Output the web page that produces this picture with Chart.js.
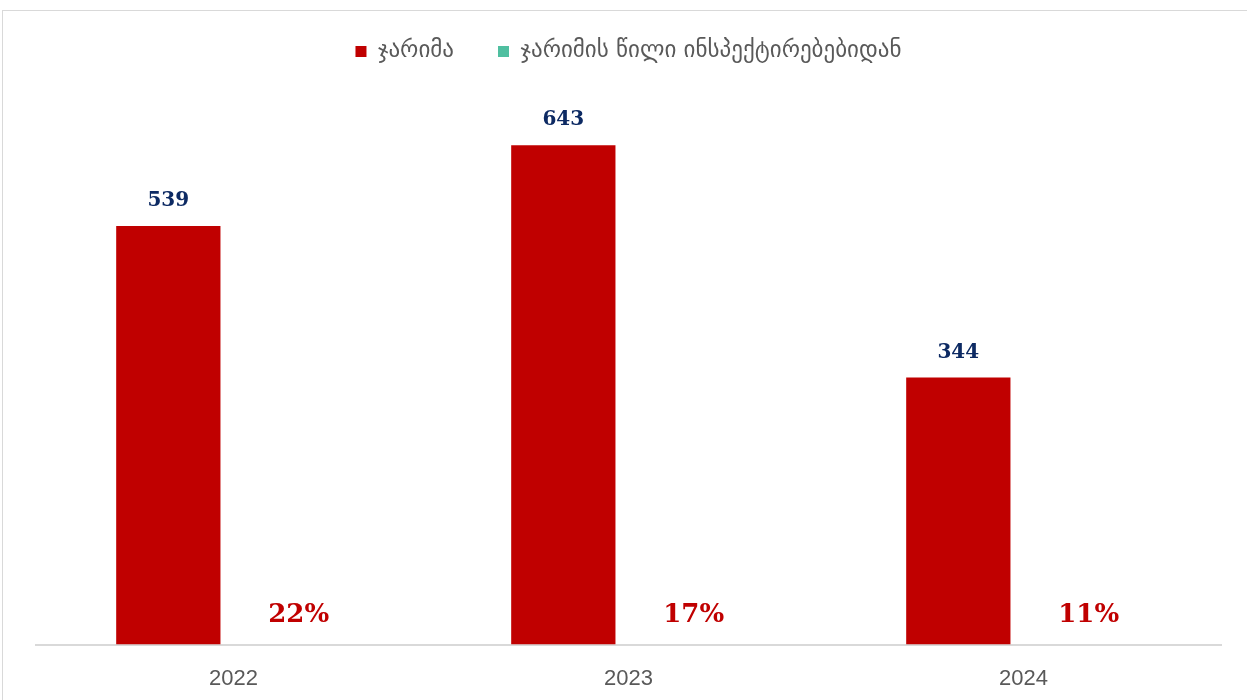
<!DOCTYPE html>
<html>
<head>
<meta charset="utf-8">
<script src="https://cdn.jsdelivr.net/npm/chart.js@4"></script>
<style>
    html, body { margin: 0; padding: 0; background: #fff; overflow: hidden; }
    #frame { position: absolute; left: 2px; top: 10px; width: 1300px; height: 760px; border: 1px solid #d9d9d9; }
    #wrap { position: absolute; left: 0; top: -12px; width: 1247px; height: 736px; }
</style>
</head>
<body>
<div id="frame"></div>
<div id="wrap"><canvas id="chart"></canvas></div>
<script>
const years = ['2022', '2023', '2024'];
const fines = [539, 643, 344];
const finePct = [22, 17, 11];
const seriesNames = ['ჯარიმა', 'ჯარიმის წილი ინსპექტირებებიდან'];

// draws the value labels above the red bars and the % labels at the bottom
const labelPlugin = {
    id: 'labels',
    afterDatasetsDraw(chart) {
        const ctx = chart.ctx;
        ctx.save();
        ctx.textAlign = 'center';
        ctx.textBaseline = 'middle';
        chart.getDatasetMeta(0).data.forEach((bar, i) => {
            ctx.fillStyle = '#0d2a63';
            ctx.font = 'bold 20px "DejaVu Serif"';
            ctx.fillText(fines[i], bar.x, bar.y - 25);
        });
        chart.getDatasetMeta(1).data.forEach((bar, i) => {
            ctx.fillStyle = '#c00000';
            ctx.font = 'bold 26px "DejaVu Serif"';
            ctx.fillText(finePct[i] + '%', bar.x, chart.chartArea.bottom - 29);
        });
        ctx.restore();
    }
};

new Chart(document.getElementById('chart'), {
    type: 'bar',
    data: {
        labels: years,
        datasets: [
            {
                label: seriesNames[0],
                data: fines,
                backgroundColor: '#c00000',
                barPercentage: 0.8,
                categoryPercentage: 0.66
            },
            {
                label: seriesNames[1],
                data: finePct.map(v => v / 100),
                backgroundColor: '#4fbfa0',
                barPercentage: 0.8,
                categoryPercentage: 0.66
            }
        ]
    },
    options: {
        responsive: true,
        maintainAspectRatio: false,
        animation: false,
        layout: { padding: { left: 36, right: 26, top: 8, bottom: 11 } },
        plugins: {
            legend: {
                position: 'top',
                labels: {
                    boxWidth: 11,
                    boxHeight: 11,
                    padding: 44,
                    color: '#595959',
                    font: { family: '"DejaVu Sans"', size: 23 }
                }
            },
            tooltip: { enabled: false }
        },
        scales: {
            x: {
                grid: { display: false, drawTicks: false },
                border: { color: '#d9d9d9', width: 2 },
                ticks: {
                    padding: 21,
                    color: '#595959',
                    font: { family: '"Liberation Sans"', size: 22 }
                }
            },
            y: {
                display: false,
                min: 0,
                max: 736
            }
        }
    },
    plugins: [labelPlugin]
});
</script>
</body>
</html>
